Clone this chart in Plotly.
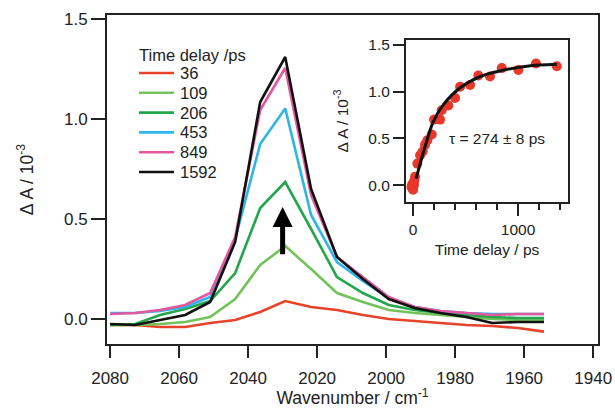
import plotly.graph_objects as go

# ---------------- data ----------------
wavenumber = [2080, 2072.75, 2065.5, 2058.25, 2051, 2043.75, 2036.5, 2029.25, 2021.75,
              2014.25, 2006.75, 1999.25, 1991.75, 1984.25, 1976.75, 1969.25, 1961.75, 1954.25]
delays = ["36", "109", "206", "453", "849", "1592"]
dA_36 = [-0.03, -0.03, -0.04, -0.04, -0.02, -0.005, 0.035, 0.09, 0.06, 0.045, 0.02, 0.0,
         -0.01, -0.02, -0.03, -0.035, -0.045, -0.063]
dA_109 = [-0.03, -0.03, -0.025, -0.015, 0.01, 0.10, 0.27, 0.365, 0.25, 0.13, 0.085, 0.045,
          0.03, 0.02, 0.01, 0.0, -0.005, -0.005]
dA_206 = [-0.03, -0.025, 0.02, 0.05, 0.09, 0.23, 0.555, 0.685, 0.45, 0.21, 0.13, 0.07,
          0.045, 0.03, 0.02, 0.01, 0.005, 0.005]
dA_453 = [0.03, 0.03, 0.04, 0.06, 0.11, 0.40, 0.875, 1.053, 0.52, 0.285, 0.19, 0.105,
          0.06, 0.04, 0.03, 0.025, 0.025, 0.025]
dA_849 = [0.025, 0.03, 0.045, 0.07, 0.13, 0.41, 1.045, 1.255, 0.62, 0.31, 0.21, 0.11,
          0.06, 0.04, 0.03, 0.02, 0.025, 0.025]
dA_1592 = [-0.025, -0.03, -0.005, 0.02, 0.085, 0.385, 1.085, 1.31, 0.65, 0.31, 0.20, 0.10,
           0.055, 0.03, 0.01, -0.02, -0.015, -0.015]
spectra = [dA_36, dA_109, dA_206, dA_453, dA_849, dA_1592]
colors = ["#e8432a", "#74c25c", "#23a64c", "#2db4e8", "#e2579e", "#111111"]

# inset kinetics
kin_t = [-15, -8, -3, 0, 3, 8, 12, 19, 41, 67, 92, 114, 136, 178, 200, 257, 273, 336, 400,
         448, 543, 622, 733, 845, 1003, 1171, 1369]
kin_A = [-0.02, 0.01, -0.04, -0.05, 0.02, 0.0, 0.05, 0.09, 0.23, 0.32, 0.36, 0.43, 0.48,
         0.54, 0.70, 0.70, 0.80, 0.85, 0.93, 1.05, 1.07, 1.17, 1.16, 1.25, 1.23, 1.30, 1.27]
fit_t = [29, 114, 194, 289, 448, 638, 829, 1083, 1369]
fit_A = [0.07, 0.41, 0.68, 0.86, 1.04, 1.16, 1.22, 1.27, 1.29]

main_xticks = [2080, 2060, 2040, 2020, 2000, 1980, 1960, 1940]
main_yticks = [0.0, 0.5, 1.0, 1.5]
legend_title = "Time delay /ps"

FONT = "Liberation Sans, Arial, sans-serif"
TXT = "#222222"

fig = go.Figure()
for name, ys, c in zip(delays, spectra, colors):
    fig.add_trace(go.Scatter(x=wavenumber, y=ys, mode="lines", name=name, showlegend=False,
                             line=dict(color=c, width=2.6), xaxis="x", yaxis="y"))

fig.add_trace(go.Scatter(x=kin_t, y=kin_A, mode="markers", showlegend=False,
                         marker=dict(color="#e8382a", size=10, line=dict(width=0)),
                         xaxis="x2", yaxis="y2"))
fig.add_trace(go.Scatter(x=fit_t, y=fit_A, mode="lines", showlegend=False,
                         line=dict(color="#111111", width=3, shape="spline"),
                         xaxis="x2", yaxis="y2"))

axis_common = dict(showline=True, linecolor=TXT, linewidth=2, mirror=True,
                   ticks="outside", tickcolor=TXT, tickwidth=2, showgrid=False,
                   zeroline=False, automargin=False,
                   tickfont=dict(family=FONT, size=17, color=TXT))

fig.update_layout(
    width=615, height=408,
    margin=dict(l=107, r=17, t=15, b=64),
    paper_bgcolor="white", plot_bgcolor="white",
    font=dict(family=FONT, color=TXT),
    xaxis=dict(axis_common, range=[2080.9, 1938.6], tickvals=main_xticks, ticklen=12,
               ticklabelstandoff=6,
               title=dict(text="Wavenumber / cm<sup>-1</sup>", font=dict(size=17.5), standoff=6),
               domain=[0, 1]),
    yaxis=dict(axis_common, range=[-0.125, 1.52], tickvals=main_yticks, tickformat=".1f",
               ticklen=14,
               title=dict(text="Δ A / 10<sup>-3</sup>", font=dict(size=17.5), standoff=26),
               domain=[0, 1]),
    xaxis2=dict(axis_common, range=[-67, 1476], tickvals=[0, 1000], ticklen=12,
                ticklabelstandoff=0,
                tickfont=dict(family=FONT, size=15.5, color=TXT),
                minor=dict(dtick=200, tick0=0, ticklen=6, tickwidth=2, tickcolor=TXT, ticks="outside"),
                title=dict(text="Time delay / ps", font=dict(size=15.5), standoff=8),
                domain=[0.609, 0.939], anchor="y2"),
    yaxis2=dict(axis_common, range=[-0.18, 1.55], tickvals=[0, 0.5, 1.0, 1.5], tickformat=".1f",
                ticklen=11, tickfont=dict(family=FONT, size=15.5, color=TXT),
                title=dict(text="Δ A / 10<sup>-3</sup>", font=dict(size=15.5), standoff=16),
                domain=[0.4316, 0.924], anchor="x2"),
    showlegend=False,
)

# hand-built legend (compact spacing as in the reference)
def px_to_paper_x(px):
    return (px - 107) / 491.0

def px_to_paper_y(py):
    return (344 - py) / 329.0

fig.add_annotation(x=px_to_paper_x(137), y=px_to_paper_y(55), xref="paper", yref="paper",
                   text=legend_title, showarrow=False, xanchor="left", yanchor="middle",
                   font=dict(family=FONT, size=16.5, color=TXT))
for k, (name, c) in enumerate(zip(delays, colors)):
    yy = px_to_paper_y(73 + 19.8 * k)
    fig.add_shape(type="line", xref="paper", yref="paper",
                  x0=px_to_paper_x(139), x1=px_to_paper_x(174), y0=yy, y1=yy,
                  line=dict(color=c, width=2.6))
    fig.add_annotation(x=px_to_paper_x(178), y=yy, xref="paper", yref="paper", text=name,
                       showarrow=False, xanchor="left", yanchor="middle",
                       font=dict(family=FONT, size=16.5, color=TXT))

# arrow
fig.add_annotation(x=2030.0, y=0.56, ax=2030.0, ay=0.316, xref="x", yref="y",
                   axref="x", ayref="y", text="", showarrow=True, arrowhead=2,
                   arrowwidth=5, arrowsize=0.8, arrowcolor="#000000", standoff=0,
                   startstandoff=0)
# tau label in inset
fig.add_annotation(x=800, y=0.50, xref="x2", yref="y2", text="τ = 274 ± 8 ps",
                   showarrow=False, font=dict(family=FONT, size=15.5, color=TXT))

fig.write_html("out.html")
